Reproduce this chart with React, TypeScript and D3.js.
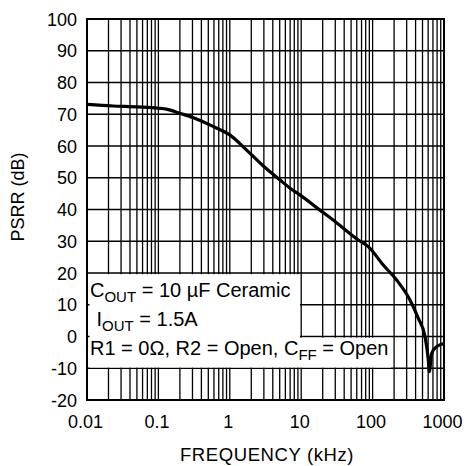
import React from "react";
import * as d3 from "d3";

const freqKHz = [0.01, 0.023, 0.05, 0.1, 0.13, 0.2, 0.31, 0.59, 1.0, 1.72, 2.95, 5.05, 7.0, 9.6, 18.3, 28, 63, 87, 141, 217, 334, 437, 542, 603, 623, 672, 790, 1000];
const psrrDb = [73.1, 72.6, 72.3, 71.9, 71.6, 70.3, 68.9, 66.1, 63.5, 58.7, 53.7, 49.3, 46.7, 44.6, 39.8, 36.7, 30.4, 28.3, 22.5, 17.8, 11.5, 5.7, 0, -7.4, -11.1, -5.3, -3.2, -2.2];
const xTickValues = [0.01, 0.1, 1, 10, 100, 1000];
const xTickLabels = ["0.01", "0.1", "1", "10", "100", "1000"];
const yTickValues = [-20, -10, 0, 10, 20, 30, 40, 50, 60, 70, 80, 90, 100];
const xTitle = "FREQUENCY (kHz)";
const yTitle = "PSRR (dB)";

const W = 468, H = 466;
const L = 87, R = 444, T = 19, B = 400;
const FONT = "'Liberation Sans', Arial, Helvetica, sans-serif";

export default function App() {
  const x = d3.scaleLog().domain([0.01, 1000]).range([L, R]);
  const y = d3.scaleLinear().domain([-20, 100]).range([B, T]);

  const minorX: number[] = [];
  for (let e = -2; e < 3; e++) {
    for (let k = 1; k <= 9; k++) minorX.push(k * Math.pow(10, e));
  }
  minorX.push(1000);

  const line = d3
    .line<number>()
    .x((_, i) => x(freqKHz[i]))
    .y((d) => y(d))
    .curve(d3.curveMonotoneX);

  return (
    <svg width={W} height={H} style={{ position: "absolute", left: 0, top: 0, background: "#fff" }} fontFamily={FONT}>
      <rect x={0} y={0} width={W} height={H} fill="#fff" />
      {minorX.map((f, i) => (
        <line key={"vx" + i} x1={x(f)} x2={x(f)} y1={T} y2={B} stroke="#000" strokeWidth={1.3} />
      ))}
      {yTickValues.map((v) => (
        <line key={"hy" + v} x1={L} x2={R} y1={y(v)} y2={y(v)} stroke="#000" strokeWidth={1.4} />
      ))}
      <path d={line(psrrDb) || ""} fill="none" stroke="#000" strokeWidth={3.2} strokeLinejoin="round" />
      <rect x={89.5} y={y(20) + 1.2} width={300 - 89.5} height={y(0) - y(20) + 1} fill="#fff" />
      <rect x={89.5} y={y(0) + 1.2} width={391 - 89.5} height={y(-10) - y(0) - 1.9} fill="#fff" />
      <text x={90} y={296.5} fontSize={20} fill="#000">
        C<tspan fontSize={15} dy={5}>OUT</tspan>
        <tspan dy={-5}> = 10 µF Ceramic</tspan>
      </text>
      <text x={96.5} y={326} fontSize={20} fill="#000">
        I<tspan fontSize={15} dy={5}>OUT</tspan>
        <tspan dy={-5}> = 1.5A</tspan>
      </text>
      <text x={90} y={354.5} fontSize={20} fill="#000">
        R1 = 0Ω, R2 = Open, C<tspan fontSize={15} dy={5}>FF</tspan>
        <tspan dy={-5}> = Open</tspan>
      </text>
      <rect x={L} y={T} width={R - L} height={B - T} fill="none" stroke="#000" strokeWidth={2} />
      {yTickValues.map((v) => (
        <text key={"yl" + v} x={77} y={y(v) + 6.5} fontSize={18} textAnchor="end" fill="#000">
          {v}
        </text>
      ))}
      {xTickValues.map((v, i) => (
        <text key={"xl" + v} x={x(v) - 1.5} y={428} fontSize={18} textAnchor="middle" fill="#000">
          {xTickLabels[i]}
        </text>
      ))}
      <text x={267} y={461} fontSize={18.5} letterSpacing={0.6} textAnchor="middle" fill="#000">
        {xTitle}
      </text>
      <text transform="translate(24,197) rotate(-90)" fontSize={18} textAnchor="middle" fill="#000">
        {yTitle}
      </text>
    </svg>
  );
}
